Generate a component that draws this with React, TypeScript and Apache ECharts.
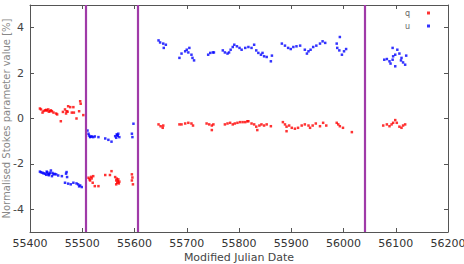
import React, { useEffect, useRef } from "react";
import * as echarts from "echarts";

// q (red) observations: [MJD, value %]
const qDates = [
  55419, 55421, 55424, 55426, 55429, 55431, 55432, 55435, 55436, 55438, 55440, 55442, 55445, 55450, 55452, 55459, 55463, 55467, 55469, 55470, 55472, 55473, 55477, 55480, 55483, 55484, 55489, 55494, 55496, 55497, 55502,
  55512, 55514, 55515, 55517, 55518, 55520, 55521, 55524, 55531, 55544, 55553, 55556, 55563, 55565, 55565, 55566, 55567, 55568, 55569, 55570, 55571, 55595, 55595, 55596, 55597,
  55646, 55650, 55654, 55655, 55686, 55690, 55697, 55703, 55709, 55712, 55738, 55743, 55748, 55748, 55751, 55773, 55778, 55783, 55788, 55792, 55797, 55802, 55807, 55812, 55816, 55818, 55824, 55829, 55833, 55835, 55839, 55843, 55848, 55853, 55861, 55884, 55888, 55891, 55891, 55896, 55901, 55907, 55913, 55920, 55926, 55933, 55936, 55941, 55947, 55955, 55961, 55967, 55987, 55990, 55993, 55999, 56016,
  56076, 56083, 56088, 56092, 56095, 56099, 56102, 56107, 56111, 56114, 56118,
];
const qValues = [
  0.44, 0.40, 0.26, 0.33, 0.36, 0.38, 0.35, 0.40, 0.30, 0.32, 0.36, 0.32, 0.26, 0.22, 0.18, -0.12, 0.29, 0.40, 0.22, 0.32, 0.30, 0.54, 0.50, 0.26, 0.50, 0.26, 0.0, 0.32, 0.76, 0.65, 0.15,
  -2.61, -2.68, -2.73, -2.57, -2.64, -2.83, -2.54, -2.98, -2.98, -2.49, -2.49, -2.32, -2.58, -2.73, -2.90, -2.65, -2.83, -2.76, -2.68, -2.86, -2.78, -2.46, -2.73, -2.60, -2.90,
  -0.26, -0.34, -0.41, -0.31, -0.26, -0.26, -0.22, -0.19, -0.22, -0.31, -0.22, -0.26, -0.31, -0.51, -0.26, -0.26, -0.22, -0.19, -0.26, -0.22, -0.19, -0.16, -0.16, -0.16, -0.12, -0.12, -0.22, -0.26, -0.36, -0.51, -0.31, -0.26, -0.31, -0.26, -0.34, -0.16, -0.26, -0.36, -0.56, -0.31, -0.41, -0.45, -0.41, -0.31, -0.26, -0.31, -0.41, -0.31, -0.22, -0.34, -0.19, -0.31, -0.19, -0.26, -0.34, -0.41, -0.60,
  -0.31, -0.26, -0.34, -0.26, -0.19, -0.07, -0.19, -0.36, -0.41, -0.31, -0.26,
];

// u (blue) observations
const uDates = [
  55419, 55421, 55424, 55426, 55429, 55431, 55432, 55433, 55435, 55436, 55437, 55438, 55440, 55442, 55443, 55445, 55447, 55450, 55454, 55461, 55467, 55469, 55470, 55471, 55473, 55478, 55483, 55489, 55492, 55494, 55496, 55499,
  55510, 55512, 55513, 55515, 55516, 55518, 55521, 55524, 55531, 55544, 55550, 55556, 55563, 55565, 55566, 55567, 55568, 55569, 55571, 55595, 55596, 55598,
  55646, 55649, 55655, 55656, 55660, 55686, 55690, 55697, 55700, 55703, 55705, 55709, 55711, 55714, 55741, 55745, 55750, 55752, 55769, 55773, 55778, 55781, 55784, 55788, 55791, 55796, 55801, 55805, 55812, 55818, 55824, 55829, 55833, 55837, 55842, 55845, 55848, 55853, 55861, 55863, 55882, 55888, 55894, 55899, 55904, 55910, 55917, 55926, 55930, 55933, 55937, 55942, 55948, 55955, 55960, 55965, 55987, 55988, 55992, 55993, 55997, 56001, 56005,
  56078, 56083, 56088, 56090, 56094, 56094, 56095, 56099, 56099, 56103, 56107, 56110, 56111, 56114, 56118, 56120,
];
const uValues = [
  -2.34, -2.37, -2.39, -2.42, -2.43, -2.48, -2.34, -2.38, -2.46, -2.50, -2.44, -2.39, -2.29, -2.54, -2.40, -2.46, -2.44, -2.46, -2.51, -2.54, -2.83, -2.43, -2.36, -2.58, -2.87, -2.90, -2.83, -2.86, -2.90, -2.99, -2.95, -3.02,
  -0.53, -0.67, -0.75, -0.82, -0.80, -0.79, -0.82, -0.79, -0.82, -0.88, -0.94, -1.02, -0.78, -0.85, -0.70, -0.73, -0.76, -0.67, -0.82, -0.67, -0.82, -0.23,
  3.44, 3.35, 3.30, 3.11, 3.25, 2.67, 2.86, 2.96, 3.03, 2.91, 3.11, 2.81, 2.67, 2.56, 2.81, 2.89, 2.91, 2.91, 3.00, 2.91, 2.86, 2.91, 3.03, 3.15, 3.25, 3.18, 3.11, 3.03, 3.11, 3.15, 3.11, 3.25, 3.00, 2.89, 2.81, 2.89, 2.74, 2.71, 2.52, 2.77, 3.30, 3.21, 3.11, 3.06, 3.15, 3.18, 3.21, 3.03, 2.86, 2.96, 3.03, 3.15, 3.21, 3.30, 3.40, 3.33, 3.30, 3.11, 3.00, 3.59, 2.81, 2.96, 3.06,
  2.59, 2.62, 2.52, 2.42, 3.11, 2.59, 2.74, 2.81, 2.30, 3.03, 2.86, 2.56, 2.67, 2.47, 2.37, 2.77,
];

// vertical event markers (MJD)
const eventDates = [55507, 55606, 56041];

const xTicks = [55400, 55500, 55600, 55700, 55800, 55900, 56000, 56100, 56200];
const yTicks = [-4, -2, 0, 2, 4];

const FONT = "DejaVu Sans";

export default function App() {
  const ref = useRef<HTMLDivElement>(null);
  useEffect(() => {
    if (!ref.current) return;
    const chart = echarts.init(ref.current, null, { renderer: "svg" });
    const q = qDates.map((d, i) => [d, qValues[i]]);
    const u = uDates.map((d, i) => [d, uValues[i]]);
    const frame = { show: true, onZero: false, lineStyle: { color: "#555", width: 1 } };
    chart.setOption({
      animation: false,
      textStyle: { fontFamily: FONT },
      grid: { left: 30, right: 16, top: 5, bottom: 32, outerBoundsMode: "none", containLabel: false },
      legend: {
        orient: "vertical",
        right: 34,
        top: 9,
        padding: 0,
        align: "right",
        itemWidth: 3,
        itemHeight: 3,
        itemGap: 5,
        icon: "rect",
        textStyle: { fontSize: 8, color: "#666", fontFamily: FONT, padding: [0, 12, 0, 0] },
        data: ["q", "u"],
      },
      xAxis: [
        {
          type: "value",
          min: 55400,
          max: 56200,
          interval: 100,
          axisLine: frame,
          axisTick: { show: true, inside: true, length: 4, lineStyle: { color: "#555" }, customValues: xTicks },
          axisLabel: { fontSize: 11, color: "#333", fontFamily: FONT, margin: 6, customValues: xTicks, formatter: (v: number) => String(v) },
          splitLine: { show: false },
          name: "Modified Julian Date",
          nameLocation: "middle",
          nameGap: 20,
          nameMoveOverlap: false,
          nameTextStyle: { fontSize: 11, color: "#444", fontFamily: FONT },
        },
        {
          type: "value",
          position: "top",
          min: 55400,
          max: 56200,
          interval: 100,
          axisLine: frame,
          axisTick: { show: true, inside: true, length: 4, lineStyle: { color: "#555" } },
          axisLabel: { show: false },
          splitLine: { show: false },
        },
      ],
      yAxis: [
        {
          type: "value",
          min: -5,
          max: 5,
          axisLine: frame,
          axisTick: { show: true, inside: true, length: 4, lineStyle: { color: "#555" }, customValues: yTicks },
          axisLabel: { fontSize: 11, color: "#444", fontFamily: FONT, margin: 6, customValues: yTicks },
          splitLine: { show: false },
          name: "Normalised Stokes parameter value [%]",
          nameLocation: "middle",
          nameGap: 19,
          nameMoveOverlap: false,
          nameTextStyle: { fontSize: 10, color: "#888", fontFamily: FONT },
        },
        {
          type: "value",
          position: "right",
          min: -5,
          max: 5,
          axisLine: frame,
          axisTick: { show: true, inside: true, length: 4, lineStyle: { color: "#555" }, customValues: yTicks },
          axisLabel: { show: false },
          splitLine: { show: false },
        },
      ],
      series: [
        {
          name: "q",
          type: "scatter",
          symbol: "rect",
          symbolSize: 2.5,
          itemStyle: { color: "#ff0000" },
          data: q,
          markLine: {
            silent: true,
            symbol: "none",
            label: { show: false },
            lineStyle: { color: "#a03aa8", width: 2.2, type: "solid" },
            data: eventDates.map((d) => ({ xAxis: d })),
          },
        },
        {
          name: "u",
          type: "scatter",
          symbol: "rect",
          symbolSize: 2.5,
          itemStyle: { color: "#0000ff" },
          data: u,
        },
      ],
    });
    return () => chart.dispose();
  }, []);
  return <div ref={ref} style={{ width: 464, height: 264, position: "absolute", left: 0, top: 0 }} />;
}
